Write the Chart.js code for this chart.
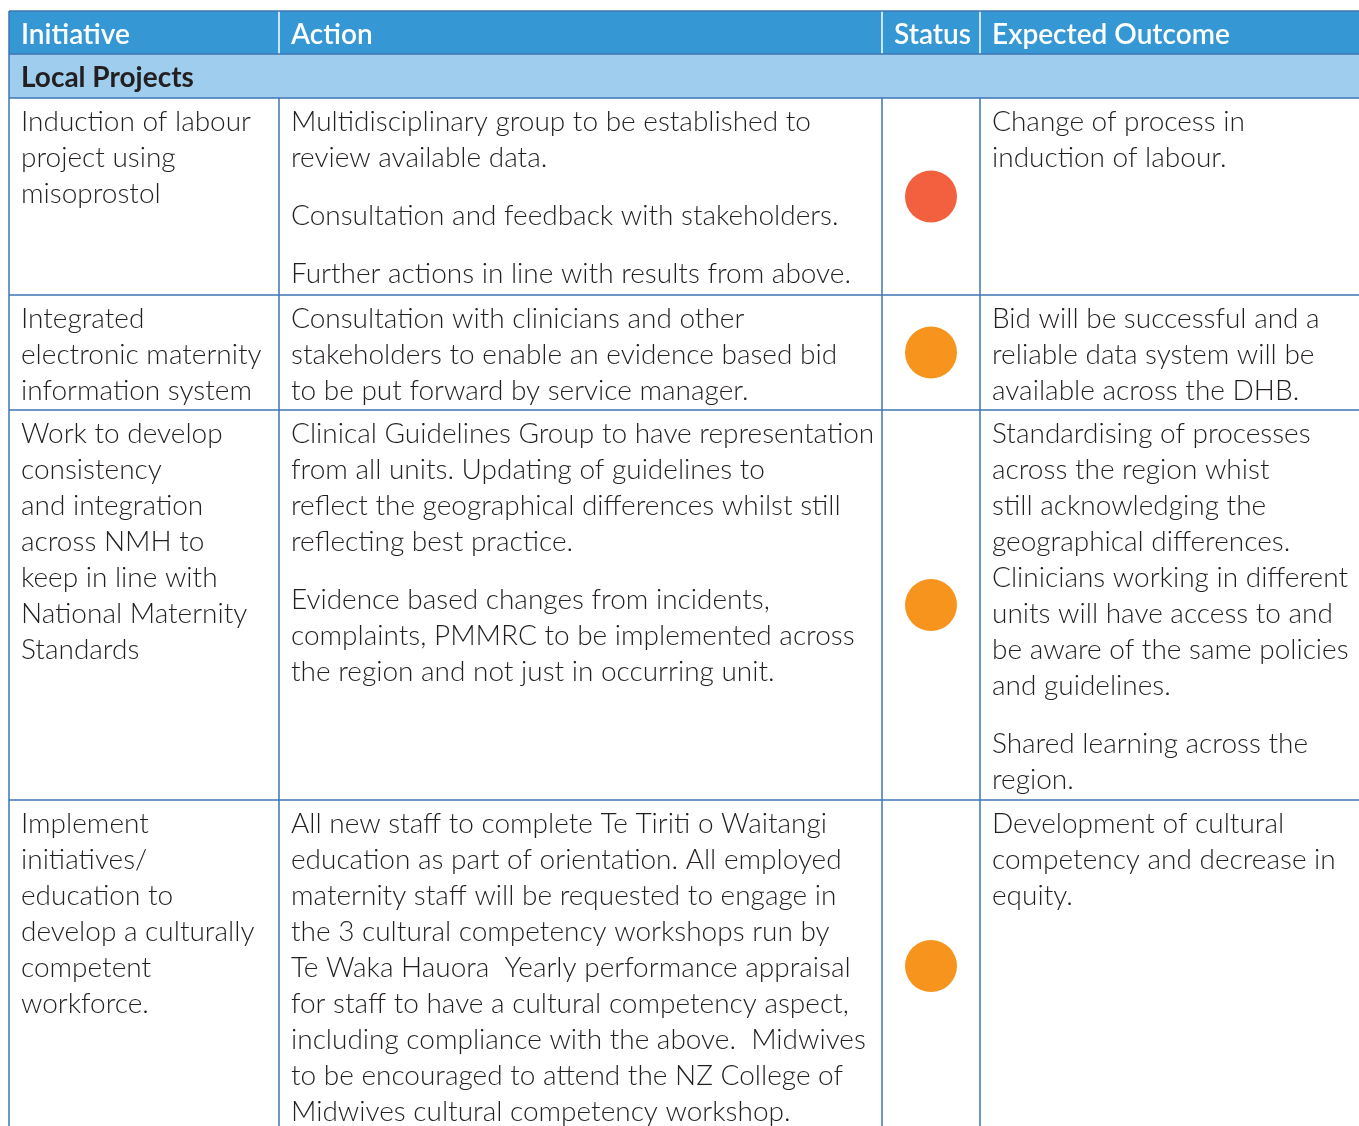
<!DOCTYPE html>
<html>
<head>
<meta charset="utf-8">
<script src="https://cdn.jsdelivr.net/npm/chart.js@4.4.1/dist/chart.umd.min.js"></script>
<style>
    html, body { margin: 0; padding: 0; background: #fff; }
    #wrap { position: relative; width: 1359px; height: 1126px; }
</style>
</head>
<body>
<div id="wrap"><canvas id="statusChart"></canvas></div>
<script>
// Table content
const headers = ['Initiative', 'Action', 'Status', 'Expected Outcome'];
const sectionTitle = 'Local Projects';

const initiatives = [
    [['Induction of labour', 'project using', 'misoprostol']],
    [['Integrated', 'electronic maternity', 'information system']],
    [['Work to develop', 'consistency', 'and integration', 'across NMH to', 'keep in line with', 'National Maternity', 'Standards']],
    [['Implement', 'initiatives/', 'education to', 'develop a culturally', 'competent', 'workforce.']]
];

const actions = [
    [['Multidisciplinary group to be established to', 'review available data.'],
     ['Consultation and feedback with stakeholders.'],
     ['Further actions in line with results from above.']],
    [['Consultation with clinicians and other', 'stakeholders to enable an evidence based bid', 'to be put forward by service manager.']],
    [['Clinical Guidelines Group to have representation', 'from all units. Updating of guidelines to', 'reflect the geographical differences whilst still', 'reflecting best practice.'],
     ['Evidence based changes from incidents,', 'complaints, PMMRC to be implemented across', 'the region and not just in occurring unit.']],
    [['All new staff to complete Te Tiriti o Waitangi', 'education as part of orientation. All employed', 'maternity staff will be requested to engage in', 'the 3 cultural competency workshops run by', 'Te Waka Hauora  Yearly performance appraisal', 'for staff to have a cultural competency aspect,', 'including compliance with the above.  Midwives', 'to be encouraged to attend the NZ College of', 'Midwives cultural competency workshop.']]
];

const statuses = ['red', 'amber', 'amber', 'amber'];

const outcomes = [
    [['Change of process in', 'induction of labour.']],
    [['Bid will be successful and a', 'reliable data system will be', 'available across the DHB.']],
    [['Standardising of processes', 'across the region whist', 'still acknowledging the', 'geographical differences.', 'Clinicians working in different', 'units will have access to and', 'be aware of the same policies', 'and guidelines.'],
     ['Shared learning across the', 'region.']],
    [['Development of cultural', 'competency and decrease in', 'equity.']]
];

// Layout (page pixels)
const colEdges = [9, 279, 882, 980, 1362];
const headerTop = 11, headerBottom = 54, sectionBottom = 98;
const rowEdges = [98, 295, 410, 800, 1132];
const statusColors = { red: '#f2603f', amber: '#f7941d' };

const FONT = 'Lato';
const BORDER = '#3d74b3';
const TEXT = '#231f20';

const tablePlugin = {
    id: 'tablePlugin',
    beforeDatasetsDraw(chart) {
        const { ctx } = chart;
        const X = v => chart.scales.x.getPixelForValue(v);
        const Y = v => chart.scales.y.getPixelForValue(v);
        const left = X(colEdges[0]), right = X(colEdges[colEdges.length - 1]);

        ctx.save();
        // header band
        ctx.fillStyle = '#3597d3';
        ctx.fillRect(left, Y(headerTop), right - left, Y(headerBottom) - Y(headerTop));
        ctx.fillStyle = '#9ecdee';
        ctx.fillRect(left, Y(headerBottom), right - left, Y(sectionBottom) - Y(headerBottom));

        // header column dividers (white)
        ctx.strokeStyle = '#ffffff';
        ctx.lineWidth = 1.5;
        colEdges.slice(1, -1).forEach(c => {
            ctx.beginPath();
            ctx.moveTo(X(c), Y(headerTop));
            ctx.lineTo(X(c), Y(headerBottom));
            ctx.stroke();
        });

        // horizontal borders
        ctx.strokeStyle = BORDER;
        ctx.lineWidth = 1.5;
        [headerTop, headerBottom, ...rowEdges.slice(0, -1)].forEach(r => {
            ctx.beginPath();
            ctx.moveTo(left, Y(r));
            ctx.lineTo(right, Y(r));
            ctx.stroke();
        });
        // outer left border
        ctx.beginPath();
        ctx.moveTo(left, Y(headerTop));
        ctx.lineTo(left, Y(rowEdges[rowEdges.length - 1]));
        ctx.stroke();
        // body column dividers
        colEdges.slice(1, -1).forEach(c => {
            ctx.beginPath();
            ctx.moveTo(X(c), Y(sectionBottom));
            ctx.lineTo(X(c), Y(rowEdges[rowEdges.length - 1]));
            ctx.stroke();
        });

        // header text
        ctx.textBaseline = 'alphabetic';
        ctx.textAlign = 'left';
        ctx.fillStyle = '#ffffff';
        ctx.font = `600 28px ${FONT}`;
        headers.forEach((h, i) => ctx.fillText(h, X(colEdges[i]) + 12, Y(headerTop) + 33));
        ctx.fillStyle = TEXT;
        ctx.font = `bold 28px ${FONT}`;
        ctx.fillText(sectionTitle, X(colEdges[0]) + 12, Y(headerBottom) + 33);

        // body text
        ctx.font = `300 28px ${FONT}`;
        const drawCell = (paras, col, row) => {
            let y = Y(rowEdges[row]) + 33;
            const x = X(colEdges[col]) + 12;
            paras.forEach((lines, pi) => {
                if (pi > 0) y += 22;
                lines.forEach(line => {
                    ctx.fillText(line, x, y);
                    y += 36;
                });
            });
        };
        initiatives.forEach((p, r) => drawCell(p, 0, r));
        actions.forEach((p, r) => drawCell(p, 1, r));
        outcomes.forEach((p, r) => drawCell(p, 3, r));
        ctx.restore();
    }
};

const statusPoints = statuses.map((s, i) => ({
    x: (colEdges[2] + colEdges[3]) / 2,
    y: (rowEdges[i] + rowEdges[i + 1]) / 2
}));

new Chart(document.getElementById('statusChart'), {
    type: 'scatter',
    data: {
        datasets: [{
            label: 'Status',
            data: statusPoints,
            pointRadius: 26,
            pointHoverRadius: 26,
            pointBorderWidth: 0,
            backgroundColor: statuses.map(s => statusColors[s])
        }]
    },
    options: {
        responsive: true,
        maintainAspectRatio: false,
        animation: false,
        layout: { padding: 0, autoPadding: false },
        plugins: { legend: { display: false }, tooltip: { enabled: false } },
        scales: {
            x: { type: 'linear', min: 0, max: 1359, display: false },
            y: { type: 'linear', min: 0, max: 1126, reverse: true, display: false }
        }
    },
    plugins: [tablePlugin]
});
</script>
</body>
</html>
